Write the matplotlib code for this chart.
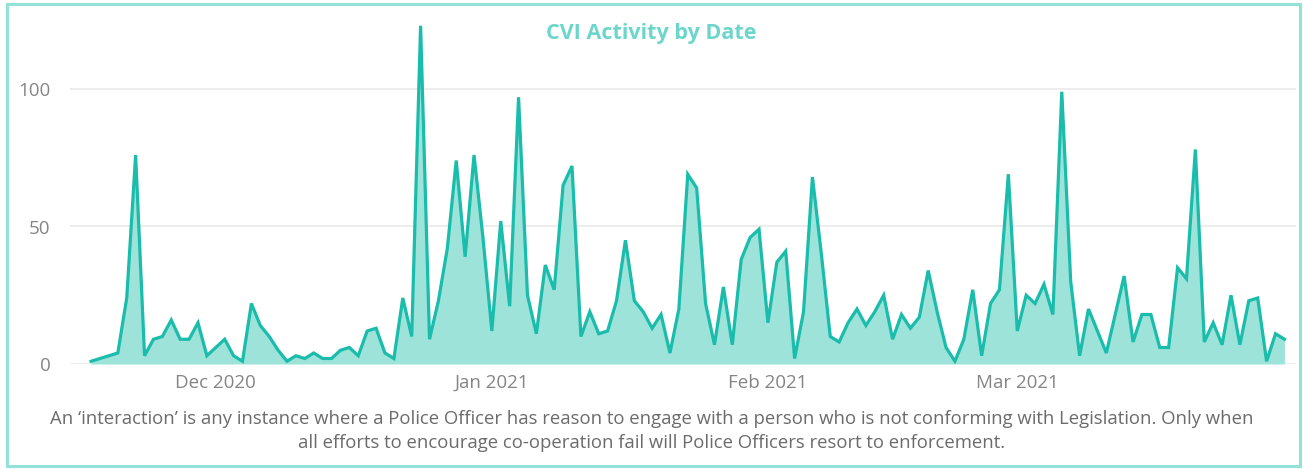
import numpy as np
import pandas as pd
import matplotlib
matplotlib.use("Agg")
import matplotlib.pyplot as plt
import matplotlib.dates as mdates
from matplotlib.patches import Rectangle

plt.rcParams['font.family'] = ['Open Sans', 'DejaVu Sans']

# daily CVI interactions, 17 Nov 2020 - 31 Mar 2021
start_date = "2020-11-17"
counts = [
    1, 2, 3, 4, 24, 76, 3, 9, 10, 16,
    9, 9, 15, 3, 6, 9, 3, 1, 22, 14,
    10, 5, 1, 3, 2, 4, 2, 2, 5, 6,
    3, 12, 13, 4, 2, 24, 10, 123, 9, 23,
    42, 74, 39, 76, 46, 12, 52, 21, 97, 25,
    11, 36, 27, 65, 72, 10, 19, 11, 12, 23,
    45, 23, 19, 13, 18, 4, 20, 69, 64, 22,
    7, 28, 7, 38, 46, 49, 15, 37, 41, 2,
    19, 68, 40, 10, 8, 15, 20, 14, 19, 25,
    9, 18, 13, 17, 34, 19, 6, 1, 9, 27,
    3, 22, 27, 69, 12, 25, 22, 29, 18, 99,
    30, 3, 20, 12, 4, 18, 32, 8, 18, 18,
    6, 6, 35, 31, 78, 8, 15, 7, 25, 7,
    23, 24, 1, 11, 9,
]
month_ticks = ["2020-12-01", "2021-01-01", "2021-02-01", "2021-03-01"]
y_ticks = [0, 50, 100]

title = "CVI Activity by Date"
caption = ("An \u2018interaction\u2019 is any instance where a Police Officer has reason to engage with a person "
           "who is not conforming with Legislation. Only when\nall efforts to encourage co-operation fail "
           "will Police Officers resort to enforcement.")

dates = pd.date_range(start_date, periods=len(counts), freq="D")

W, H = 1303, 469
fig = plt.figure(figsize=(W / 100, H / 100), dpi=100)
ax = fig.add_axes([70 / W, 105 / H, (1296 - 70) / W, (364 - 17.5) / H])

line_col = "#1ABCAB"
fill_col = "#9DE3DA"
ax.fill_between(dates, counts, 0, color=fill_col, linewidth=0)
ax.plot(dates, counts, color=line_col, linewidth=2.3, solid_joinstyle="miter")

ax.set_ylim(0, 126)
ax.set_xlim(dates[0] - pd.Timedelta(days=2.37), dates[0] + pd.Timedelta(days=135.3))
ax.set_yticks(y_ticks)
ax.set_xticks(pd.to_datetime(month_ticks))
ax.xaxis.set_major_formatter(mdates.DateFormatter("%b %Y"))
ax.grid(axis="y", color="#ececec", linewidth=1.3)
ax.set_axisbelow(True)
for s in ax.spines.values():
    s.set_visible(False)
ax.tick_params(axis="both", length=0, labelsize=13.5, colors="#858585")
ax.tick_params(axis="y", pad=14)
ax.tick_params(axis="x", pad=7)

fig.text(0.5, 1 - 33 / H, title, ha="center", va="center", fontsize=15.5,
         fontweight="bold", color="#6DD6CC")
fig.text(0.5, 1 - 431 / H, caption, ha="center", va="center", fontsize=13.3,
         color="#6b6b6b", linespacing=1.5)

fig.patches.append(Rectangle((7 / W, 3 / H), (1300 - 7) / W, (466 - 4) / H,
                             transform=fig.transFigure, fill=False,
                             edgecolor="#93E1D8", linewidth=2.2))

fig.savefig("out.png", dpi=100)
